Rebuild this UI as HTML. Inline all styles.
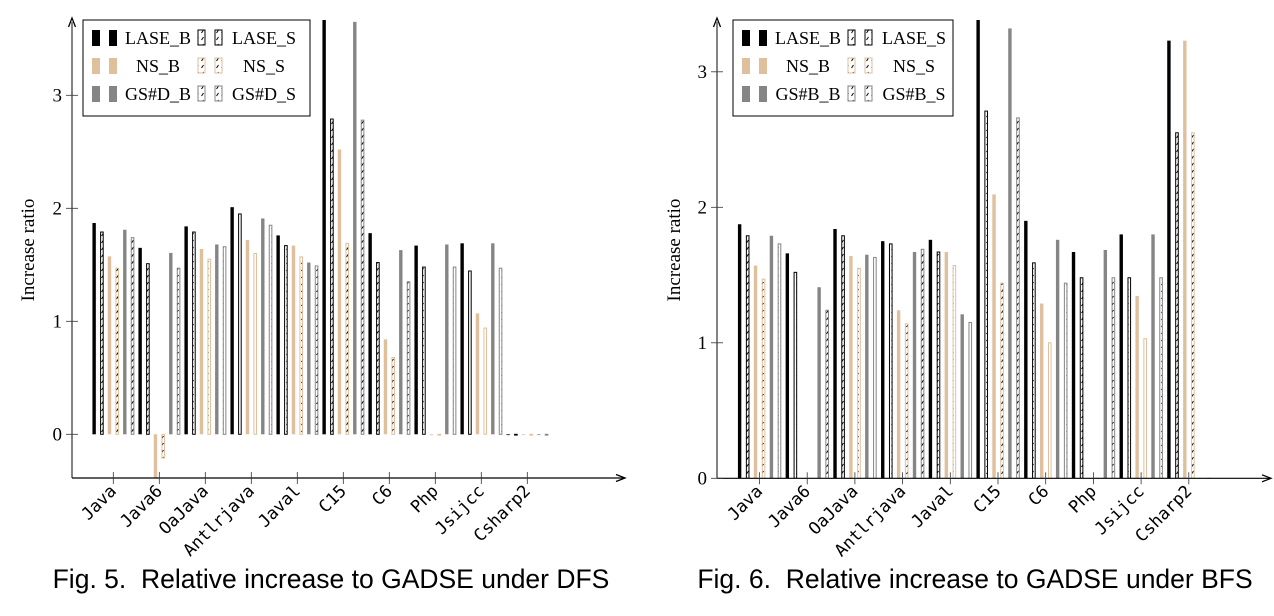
<!DOCTYPE html>
<html><head><meta charset="utf-8"><style>
body{margin:0;background:#fff;width:1274px;height:616px;overflow:hidden}
svg{display:block}
.tk{font-family:"Liberation Serif",serif;font-size:19px}
.xl{font-family:"DejaVu Sans Mono","Liberation Mono",monospace;font-size:17px}
.cap{font-family:"Liberation Sans",sans-serif;font-size:26.5px;white-space:pre}
.lg{font-family:"Liberation Serif",serif;font-size:18px}
</style></head><body>
<svg id="root" width="1274" height="616" xmlns="http://www.w3.org/2000/svg">
<defs>
<pattern id="hatch" width="5" height="7" patternUnits="userSpaceOnUse"><line x1="1.5" y1="5" x2="3.5" y2="2" stroke="#000" stroke-width="1"/></pattern>
</defs>
</svg>
<script>
const categories=["Java","Java6","OaJava","Antlrjava","Javal","C15","C6","Php","Jsijcc","Csharp2"];
const seriesNamesDFS=["LASE_B","LASE_S","NS_B","NS_S","GS#D_B","GS#D_S"];
const seriesNamesBFS=["LASE_B","LASE_S","NS_B","NS_S","GS#B_B","GS#B_S"];
// DFS values
const dfsLaseB=[1.87,1.65,1.84,2.01,1.76,3.7,1.78,1.67,1.69,0];
const dfsLaseS=[1.79,1.51,1.79,1.95,1.67,2.79,1.52,1.48,1.445,0];
const dfsNsB=[1.575,-0.45,1.64,1.72,1.67,2.52,0.84,0,1.07,0];
const dfsNsS=[1.47,-0.21,1.55,1.60,1.57,1.69,0.68,0,0.94,0];
const dfsGsB=[1.81,1.605,1.68,1.91,1.52,3.65,1.63,1.68,1.69,0];
const dfsGsS=[1.74,1.47,1.66,1.85,1.49,2.78,1.35,1.48,1.47,0];
// BFS values
const bfsLaseB=[1.875,1.66,1.84,1.75,1.76,3.4,1.90,1.67,1.80,3.23];
const bfsLaseS=[1.79,1.52,1.79,1.73,1.67,2.71,1.59,1.48,1.48,2.55];
const bfsNsB=[1.57,0,1.64,1.24,1.67,2.095,1.29,0,1.345,3.23];
const bfsNsS=[1.47,0,1.55,1.14,1.57,1.44,1.0,0,1.03,2.55];
const bfsGsB=[1.79,1.41,1.65,1.67,1.21,3.32,1.76,1.685,1.80,0];
const bfsGsS=[1.73,1.24,1.63,1.69,1.15,2.66,1.44,1.48,1.48,0];
const yTicks=[0,1,2,3];

const NS="http://www.w3.org/2000/svg";
const root=document.getElementById('root');
function mk(tag,attrs,parent){const e=document.createElementNS(NS,tag);for(const k in attrs)e.setAttribute(k,attrs[k]);(parent||root).appendChild(e);return e;}
const colors=["#000","#000","#e0bf9c","#e0bf9c","#858585","#858585"];
const hatched=[false,true,false,true,false,true];

function chart(cfg){
  const g=mk('g',{});
  
  
  const yS=v=>cfg.y0-v*cfg.ppu;
  const xS=i=>cfg.x0+i*cfg.step;
  const clip=mk('clipPath',{id:cfg.name+'-clip'},g);
  mk('rect',{x:cfg.ax,y:20,width:cfg.axEnd-cfg.ax,height:cfg.axY-20},clip);
  const bars=mk('g',{'clip-path':'url(#'+cfg.name+'-clip)'},g);
  cfg.series.forEach((vals,s)=>{
    vals.forEach((v,i)=>{
      const cx=xS(i)+(s-2.5)*cfg.step/6;
      const y1=yS(Math.max(v,0)),y2=yS(Math.min(v,0));
      const h=Math.max(y2-y1,0.8);
      let r;
      if(hatched[s]){
        r=mk('rect',{x:cx-1.2,y:y1,width:2.6,height:h,fill:'url(#hatch)',stroke:colors[s],'stroke-width':1},bars);
      }else{
        r=mk('rect',{x:cx-1.7,y:y1,width:3.4,height:h,fill:colors[s]},bars);
      }
      
      
    });
  });
  const ya=mk('line',{x1:cfg.ax,y1:cfg.axY,x2:cfg.ax,y2:22,stroke:'#333','stroke-width':1.2},g);
  
  
  mk('path',{d:`M${cfg.ax-3.5},27 L${cfg.ax},18 L${cfg.ax+3.5},27`,fill:'none',stroke:'#000','stroke-width':1.3},g);
  const xa=mk('line',{x1:cfg.ax,y1:cfg.axY,x2:cfg.axEnd+8,y2:cfg.axY,stroke:'#000','stroke-width':1.2},g);
  
  
  mk('path',{d:`M${cfg.axEnd},${cfg.axY-3.5} L${cfg.axEnd+9},${cfg.axY} L${cfg.axEnd},${cfg.axY+3.5}`,fill:'none',stroke:'#000','stroke-width':1.3},g);
  yTicks.forEach(t=>{
    const y=yS(t);
    mk('line',{x1:cfg.ax-6,y1:y,x2:cfg.ax+6,y2:y,stroke:'#333','stroke-width':0.8},g);
    const tx=mk('text',{x:cfg.ax-10,y:y+6,'text-anchor':'end',class:'tk'},g);
    tx.textContent=t;
    
    
  });
  categories.forEach((c,i)=>{
    const x=xS(i);
    mk('line',{x1:x,y1:cfg.axY-6,x2:x,y2:cfg.axY+6,stroke:'#333','stroke-width':0.8},g);
    const tx=mk('text',{x:x+4,y:cfg.axY+14,'text-anchor':'end',class:'xl',transform:`rotate(-45 ${x+4} ${cfg.axY+14})`},g);
    tx.textContent=c;
    
    
  });
  const yt=mk('text',{x:cfg.ytX,y:250,'text-anchor':'middle',class:'tk',transform:`rotate(-90 ${cfg.ytX} 250)`},g);
  yt.textContent='Increase ratio';
  
  
  const cap=mk('text',{x:cfg.capX,y:588,'text-anchor':'middle',class:'cap'},g);
  cap.textContent=cfg.caption;
  
  
  const lg=mk('g',{},g);
  
  
  mk('rect',{x:cfg.lx,y:20,width:cfg.lw,height:96,fill:'#fff',stroke:'#000','stroke-width':1},lg);
  for(let r=0;r<3;r++){
    const yc=38+r*28;
    for(let h=0;h<2;h++){
      const s=r*2+h;
      const bx=cfg.lx+(h?cfg.c2:9);
      for(let k=0;k<2;k++){
        const x=bx+k*17;
        if(hatched[s]) mk('rect',{x:x,y:yc-8,width:7,height:15,fill:'url(#hatch)',stroke:colors[s],'stroke-width':1},lg);
        else mk('rect',{x:x,y:yc-8,width:8,height:16,fill:colors[s]},lg);
      }
      const t=mk('text',{x:bx+66,y:yc+6,'text-anchor':'middle',class:'lg'},lg);
      t.textContent=cfg.snames[s];
      
      
    }
  }
}
chart({name:'dfs-chart',series:[dfsLaseB,dfsLaseS,dfsNsB,dfsNsS,dfsGsB,dfsGsS],snames:seriesNamesDFS,
  x0:113.3,step:46,y0:434.3,ppu:113,ax:72,axY:478,axEnd:616,ytX:34,capX:331,lx:83,lw:227,c2:115,
  caption:'Fig. 5.  Relative increase to GADSE under DFS'});
chart({name:'bfs-chart',series:[bfsLaseB,bfsLaseS,bfsNsB,bfsNsS,bfsGsB,bfsGsS],snames:seriesNamesBFS,
  x0:759.5,step:47.7,y0:478.3,ppu:135.5,ax:717,axY:478.3,axEnd:1262,ytX:680,capX:975,lx:733,lw:220,c2:115,
  caption:'Fig. 6.  Relative increase to GADSE under BFS'});
</script>
</body></html>
